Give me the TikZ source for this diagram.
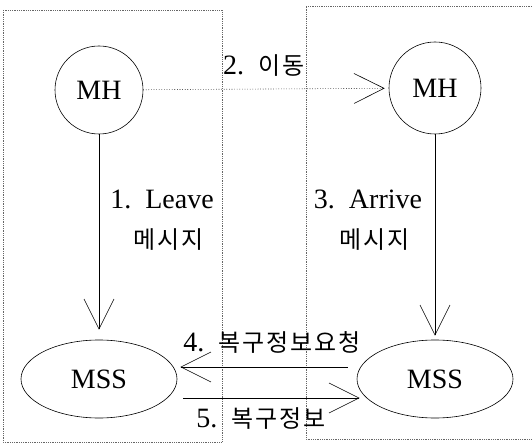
\documentclass[tikz,border=0pt]{standalone}
\usepackage{fontspec}
\setmainfont{Liberation Serif}
\newfontfamily\kor[LetterSpace=8]{Noto Sans CJK KR}
\usepackage{tikz}
\usetikzlibrary{arrows.meta}
\usetikzlibrary{shapes.geometric, calc}

\newcommand{\hangul}[1]{{\kor\fontsize{24}{28}\selectfont #1}}
\newcommand{\gap}{\hspace{14pt}}

\tikzset{
  host/.style={draw, circle, minimum size=88pt, inner sep=0pt, line width=0.6pt, font=\fontsize{28}{30}\selectfont},
  station/.style={draw, ellipse, minimum width=156pt, minimum height=78pt, inner sep=0pt, line width=0.6pt, font=\fontsize{28}{30}\selectfont},
  msg/.style={-{Straight Barb[length=30pt,width=30pt]}, line width=0.6pt},
  frame/.style={draw=black!60, dash pattern=on 0.8pt off 1pt, line width=0.6pt},
  lbl/.style={inner sep=0pt, align=center, font=\fontsize{28}{40}\selectfont}
}

\begin{document}
\begin{tikzpicture}[x=1pt, y=-1pt]
                \useasboundingbox (0,0) rectangle (532,443);
                % cells
                \draw[frame] (3,10) rectangle (222,442);
                \draw[frame] (532,6) -- (306,6) -- (306,439) -- (532,439);
                % hosts and stations
                \node[host] (mhA) at (99,90) {MH};
                \node[host, minimum height=92pt] (mhB) at (435,88) {MH};
                \node[station] (mssA) at (99,379) {MSS};
                \node[station] (mssB) at (435,379) {MSS};
                % messages
                \draw[msg, dotted, shorten >=4pt] (mhA) -- (mhB);
                \draw[msg, shorten >=10pt] (mhA) -- (mssA);
                \draw[msg, shorten >=4pt] (mhB) -- (mssB);
                \draw[msg] ([xshift=-9pt,yshift=12pt]mssB.west) -- ([xshift=3pt,yshift=12pt]mssA.east);
                \draw[msg] ([xshift=6pt,yshift=-19pt]mssA.east) -- ([xshift=3pt,yshift=-19pt]mssB.west);
                \node[lbl, anchor=west] (move) at (223,66) {2.\gap\hangul{이동}};
                \node[lbl] (leave) at (162,220) {1.\gap Leave\\\hspace*{14pt}\hangul{메시지}};
                \node[lbl] (arrive) at (368,220) {3.\gap Arrive\\\hspace*{14pt}\hangul{메시지}};
                \node[lbl] (req) at (272,342) {4.\gap\hangul{복구정보요청}};
                \node[lbl] (info) at (261,419) {5.\gap\hangul{복구정보}};
            \end{tikzpicture}
\end{document}
